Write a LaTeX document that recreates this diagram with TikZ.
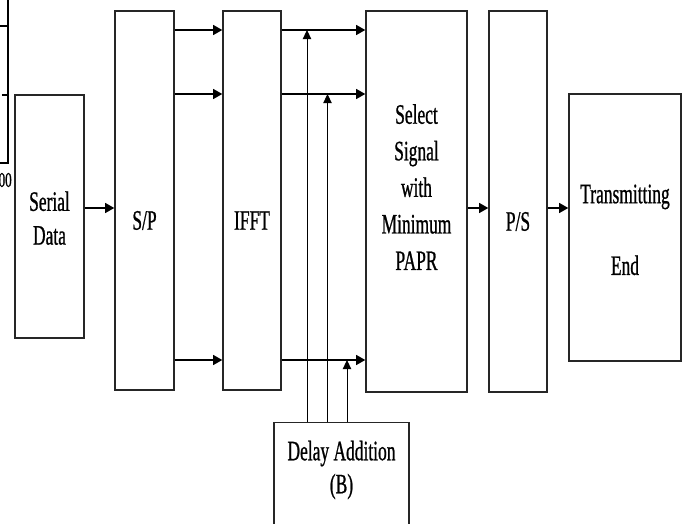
\documentclass[tikz,border=0pt]{standalone}
\usepackage{fontspec}
\newfontfamily\diafont[FakeStretch=0.62,FakeBold=0.8]{Liberation Serif}
\usetikzlibrary{arrows.meta,calc,positioning}

\begin{document}
\begin{tikzpicture}[x=0.025cm,y=-0.025cm]
\colorlet{box edge}{black!85}
\tikzset{
     block/.style={draw=box edge, line width=1pt, inner sep=0pt},
     lbl/.style={font=\diafont\fontsize{20}{25}\selectfont, align=center, inner sep=0pt},
     flow/.style={line width=1.3pt, -{Triangle[length=6.5pt,width=7pt]}},
     feed/.style={line width=0.7pt, -{Triangle[length=6.5pt,width=6pt]}}}

\useasboundingbox (0,0) rectangle (686,524);
\clip (0,0) rectangle (686,524);

% Piece of a neighbouring plot
\draw[line width=0.8pt] (8,0) -- (8,163) -- (0,163);
\draw[line width=0.8pt] (0,26) -- (8,26);
\draw[line width=0.8pt] (2,95) -- (8,95);
\node (axis) [anchor=east, font=\diafont\fontsize{15}{17}\selectfont, inner sep=0pt] at (12,180) {00};

% The boxes
\node (serial) [block, minimum width=1.725cm, minimum height=6.075cm] at (49.5,216.5) {};
\node (sp)     [block, minimum width=1.475cm, minimum height=9.475cm] at (144.5,200.5) {};
\node (ifft)   [block, minimum width=1.45cm,  minimum height=9.475cm] at (252,200.5) {};
\node (select) [block, minimum width=2.525cm, minimum height=9.525cm] at (416.5,201.5) {};
\node (ps)     [block, minimum width=1.45cm,  minimum height=9.525cm] at (518,201.5) {};
\node (tx)     [block, minimum width=2.8cm,   minimum height=6.675cm] at (625,227.5) {};
\node (delay)  [block, minimum width=3.375cm, minimum height=3cm, anchor=north] at (341.5,422) {};

% The labels
\node [lbl, font=\diafont\fontsize{20}{24}\selectfont] at ([yshift=-0.04cm]serial) {Serial\\Data};
\node [lbl] at ([yshift=-0.5cm]sp) {S/P};
\node [lbl] at ([yshift=-0.5cm]ifft) {IFFT};
\node [lbl, font=\diafont\fontsize{20}{26}\selectfont] at ([yshift=0.36cm]select) {Select\\Signal\\with\\Minimum\\PAPR};
\node [lbl] at ([yshift=-0.5cm]ps) {P/S};
\node [lbl] at ([yshift=-0.06cm]tx) {Transmitting\\[26pt]End};
\node [lbl, font=\diafont\fontsize{20}{23.5}\selectfont] at ([yshift=-1.2cm]delay.north) {Delay Addition\\(B)};

% The rows
\coordinate (r0) at (0,208);
\coordinate (r1) at (0,30);
\coordinate (r2) at (0,94);
\coordinate (r3) at (0,360);
\coordinate (v1) at (307,0);
\coordinate (v2) at (327.5,0);
\coordinate (v3) at (347,0);

% The arrows
\draw [flow] (serial.east |- r0) -- (sp.west |- r0);
\foreach \r in {r1,r2,r3}{
  \draw [flow] (sp.east |- \r) -- (ifft.west |- \r);
  \draw [flow] (ifft.east |- \r) -- (select.west |- \r);
}
\draw [flow] (select.east |- r0) -- (ps.west |- r0);
\draw [flow] (ps.east |- r0) -- (tx.west |- r0);

% Delay feeds
\draw [feed] (delay.north -| v1) -- (v1 |- r1);
\draw [feed] (delay.north -| v2) -- (v2 |- r2);
\draw [feed] (delay.north -| v3) -- (v3 |- r3);
\end{tikzpicture}
\end{document}
